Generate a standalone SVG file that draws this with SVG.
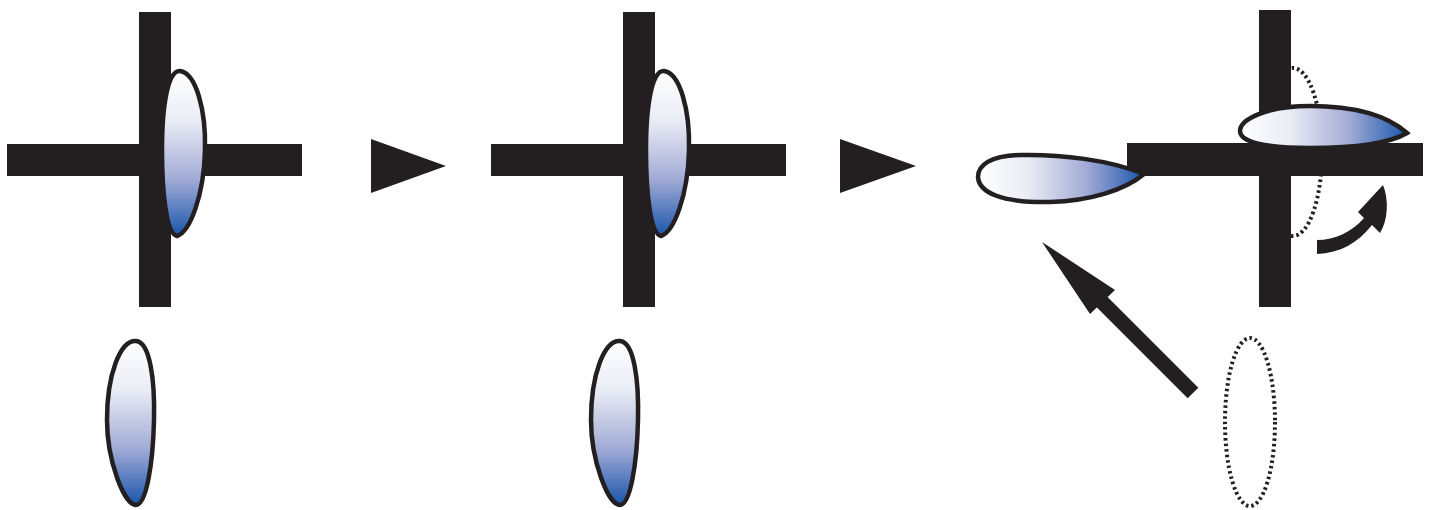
<svg xmlns="http://www.w3.org/2000/svg" width="1433" height="510" viewBox="0 0 1433 510">
<defs>
<linearGradient id="gv" x1="0" y1="0" x2="0" y2="1">
<stop offset="0" stop-color="#ffffff"/>
<stop offset="0.3" stop-color="#eaecf5"/>
<stop offset="0.65" stop-color="#a3acd6"/>
<stop offset="1" stop-color="#1a55ac"/>
</linearGradient>
<linearGradient id="gh" x1="0" y1="0" x2="1" y2="0">
<stop offset="0" stop-color="#ffffff"/>
<stop offset="0.3" stop-color="#eaecf5"/>
<stop offset="0.65" stop-color="#a3acd6"/>
<stop offset="1" stop-color="#1a55ac"/>
</linearGradient>
<style>
.bar{fill:#231f20}
.lv{fill:url(#gv);stroke:#231f20;stroke-width:4.5}
.lh{fill:url(#gh);stroke:#231f20;stroke-width:4.5}
.dot{fill:none;stroke:#231f20;stroke-width:4;stroke-dasharray:2.5 3}
.tri{fill:#231f20}
</style>
</defs>
<g id="panel1">
<rect class="bar" x="139" y="12" width="32" height="295"/>
<rect class="bar" x="7" y="144" width="295" height="32"/>
<path class="lv" d="M180,71 C196,73 206,110 205,150 C204,195 190,232 177,236 C166,234 162,190 162,150 C162,105 168,70 180,71 Z"/>
<path class="lv" d="M136,341 C150,342 155,380 154,420 C153,465 146,505 136,505 C124,505 107,460 107,420 C107,375 120,340 136,341 Z"/>
</g>
<g id="panel2">
<rect class="bar" x="623" y="12" width="32" height="295"/>
<rect class="bar" x="491" y="144" width="295" height="32"/>
<path class="lv" d="M664,71 C680,73 690,110 689,150 C688,195 674,232 661,236 C650,234 646,190 646,150 C646,105 652,70 664,71 Z"/>
<path class="lv" d="M620,341 C634,342 639,380 638,420 C637,465 630,505 620,505 C608,505 591,460 591,420 C591,375 604,340 620,341 Z"/>
</g>
<g id="panel3">
<ellipse class="dot" cx="1293" cy="152" rx="29" ry="84"/>
<rect class="bar" x="1259" y="10" width="32" height="297"/>
<rect class="bar" x="1127" y="143" width="296" height="33"/>
<path class="lh" d="M1144,174 C1110,160 1060,154 1020,155 C990,156 978,165 978,177 C979,192 1000,203 1050,202 C1090,201 1125,190 1144,174 Z"/>
<path class="lh" d="M1407,133 C1390,118 1360,106 1310,106 C1265,106 1240,120 1240,131 C1240,142 1265,148 1310,148 C1355,148 1390,143 1407,133 Z"/>
<ellipse class="dot" cx="1250" cy="422" rx="25" ry="84"/>
</g>
<g id="connectors">
<polygon class="tri" points="371,139 446,166 371,193"/>
<polygon class="tri" points="840,139 916,166 840,193"/>
<path class="tri" d="M1317,240 C1335,240 1352,232 1364,218 L1358,212 L1383,185 C1389,200 1388,220 1380,233 L1372,225 C1358,243 1340,253 1317,254 Z"/>
<line x1="1193" y1="393" x2="1098" y2="298" stroke="#231f20" stroke-width="15"/>
<polygon class="tri" points="1042,242 1115,290 1090,314"/>
</g>
</svg>
